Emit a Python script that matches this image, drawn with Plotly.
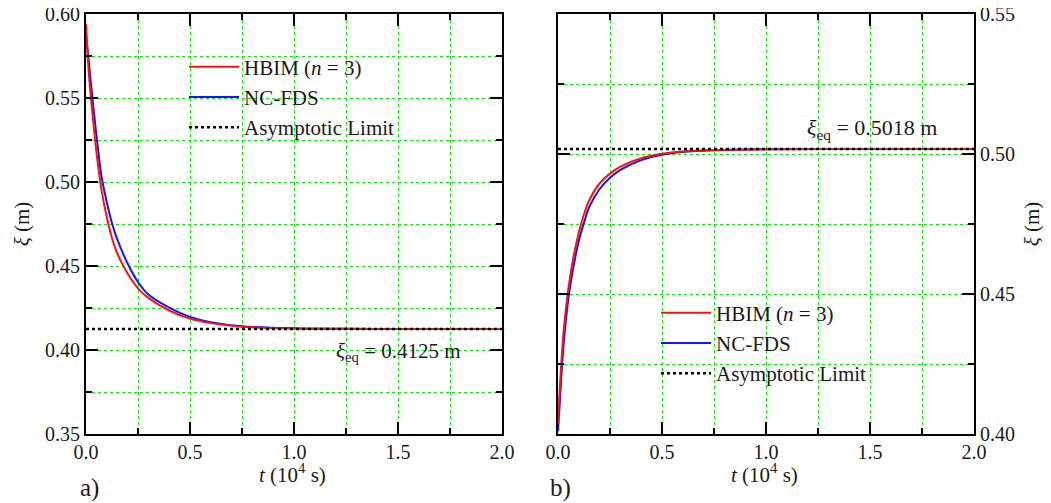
import plotly.graph_objects as go

# ---- Panel a) data (read from figure) ----
t_hbim_a = [0, 0.01, 0.02, 0.03, 0.05, 0.075, 0.1, 0.125, 0.15, 0.2, 0.25, 0.3, 0.4, 0.5, 0.6, 0.75, 1.0, 1.25, 1.5, 2.0]
xi_hbim_a = [0.594, 0.571, 0.555, 0.542, 0.518, 0.495, 0.479, 0.4665, 0.4575, 0.4455, 0.4367, 0.431, 0.4235, 0.4187,
             0.4160, 0.4138, 0.4128, 0.4126, 0.4125, 0.4125]
t_fds_a = [0, 0.01, 0.02, 0.03, 0.05, 0.075, 0.1, 0.125, 0.15, 0.2, 0.25, 0.3, 0.4, 0.5, 0.6, 0.75, 1.0, 1.25, 1.5, 2.0]
xi_fds_a = [0.588, 0.576, 0.563, 0.551, 0.528, 0.503, 0.488, 0.4755, 0.466, 0.4515, 0.4405, 0.433, 0.4252, 0.4197,
            0.4166, 0.4141, 0.4129, 0.4126, 0.4125, 0.4125]
xi_eq_a = 0.4125

# ---- Panel b) data (read from figure) ----
t_hbim_b = [0, 0.01, 0.02, 0.03, 0.05, 0.075, 0.1, 0.125, 0.15, 0.2, 0.25, 0.3, 0.4, 0.5, 0.6, 0.75, 1.0, 1.5, 2.0]
xi_hbim_b = [0.404, 0.418, 0.430, 0.439, 0.452, 0.4635, 0.472, 0.4785, 0.4835, 0.4895, 0.493, 0.4955, 0.4985,
             0.5001, 0.5009, 0.5014, 0.5017, 0.5018, 0.5018]
t_fds_b = [0, 0.01, 0.02, 0.03, 0.05, 0.075, 0.1, 0.125, 0.15, 0.2, 0.25, 0.3, 0.4, 0.5, 0.6, 0.75, 1.0, 1.5, 2.0]
xi_fds_b = [0.401, 0.413, 0.4255, 0.4345, 0.4485, 0.460, 0.469, 0.4755, 0.481, 0.4875, 0.4915, 0.4943, 0.4978,
            0.4997, 0.5007, 0.5013, 0.5017, 0.5018, 0.5018]
xi_eq_b = 0.5018

t_span = [0, 2.0]

FONT = "Liberation Serif"
TXT = "#1a1a1a"
GREEN = "#20e020"
RED = "#ff1010"
BLUE = "#1414ff"

# page has an 8px body margin; figure occupies page pixels 8..1051 x 8..503
OFF = 8
W, H = 1051 - OFF, 503 - OFF
def px(X):
    return (X - OFF) / W
def py(Y):
    return 1 - (Y - OFF) / H

fig = go.Figure()

def add_panel(xa, ya, leg, th, yh, tf, yf, yeq):
    fig.add_trace(go.Scatter(x=tf, y=yf, mode="lines", line=dict(color=BLUE, width=2, shape="spline", smoothing=0.8),
                             name="NC-FDS", xaxis=xa, yaxis=ya, legend=leg, legendrank=2))
    fig.add_trace(go.Scatter(x=th, y=yh, mode="lines", line=dict(color=RED, width=2, shape="spline", smoothing=0.8),
                             name="HBIM (<i>n</i> = 3)", xaxis=xa, yaxis=ya, legend=leg, legendrank=1))
    fig.add_trace(go.Scatter(x=t_span, y=[yeq, yeq], mode="lines", line=dict(color="black", width=2.5, dash="dot"),
                             name="Asymptotic Limit", xaxis=xa, yaxis=ya, legend=leg, legendrank=3))

add_panel("x", "y", "legend", t_hbim_a, xi_hbim_a, t_fds_a, xi_fds_a, xi_eq_a)
add_panel("x2", "y2", "legend2", t_hbim_b, xi_hbim_b, t_fds_b, xi_fds_b, xi_eq_b)

FS = 21
tickfont = dict(family=FONT, size=20, color=TXT)
grid = dict(showgrid=True, gridcolor=GREEN, griddash="dot", gridwidth=1)
minor_common = dict(ticks="inside", ticklen=6, tickwidth=2, tickcolor="black",
                    showgrid=True, gridcolor=GREEN, griddash="dot", gridwidth=1)

def xaxis(domain, anchor):
    return dict(domain=domain, anchor=anchor, range=[0, 2.0], dtick=0.5, tick0=0, tickformat=".1f",
                showline=True, linecolor="black", linewidth=2, mirror="ticks",
                ticks="inside", ticklen=12, tickwidth=2, tickcolor="black",
                minor=dict(dtick=0.25, **minor_common),
                tickfont=tickfont, zeroline=False, automargin=False, ticklabeloverflow="allow",
                ticklabelstandoff=-1,
                **grid)

def yaxis(domain, anchor, rng, side):
    return dict(domain=domain, anchor=anchor, range=rng, dtick=0.05, tick0=0, tickformat=".2f", side=side,
                showline=True, linecolor="black", linewidth=2, mirror="ticks",
                ticks="inside", ticklen=12, tickwidth=2, tickcolor="black",
                minor=dict(dtick=0.025, **minor_common),
                tickfont=tickfont, zeroline=False, automargin=False, ticklabeloverflow="allow",
                title=dict(text="<i>ξ</i> (m)", font=dict(family=FONT, size=FS, color=TXT), standoff=10),
                **grid)

# plot areas sized so every grid step falls on a whole pixel
yd = [py(434), py(14)]
legfont = dict(family=FONT, size=21, color=TXT)
xtitle = "<i>t</i> (10<sup>4</sup> s)"
fig.update_layout(
    width=W, height=H,
    margin=dict(l=0, r=0, t=0, b=0),
    paper_bgcolor="white", plot_bgcolor="white",
    font=dict(family=FONT, size=FS, color=TXT),
    xaxis=xaxis([px(86), px(502)], "y"),
    yaxis=yaxis(yd, "x", [0.35, 0.60], "left"),
    xaxis2=xaxis([px(558), px(974)], "y2"),
    yaxis2=yaxis(yd, "x2", [0.40, 0.55], "right"),
    legend=dict(x=px(184), y=py(97), xanchor="left", yanchor="middle", bgcolor="rgba(0,0,0,0)",
                font=legfont, tracegroupgap=0, itemwidth=50, traceorder="normal"),
    legend2=dict(x=px(656), y=py(343), xanchor="left", yanchor="middle", bgcolor="rgba(0,0,0,0)",
                 font=legfont, tracegroupgap=0, itemwidth=50, traceorder="normal"),
    annotations=[
        dict(text="<i>ξ</i><sub>eq</sub> = 0.4125 m", x=1.19, y=0.3986, xref="x", yref="y",
             xanchor="left", yanchor="middle", showarrow=False, font=dict(family=FONT, size=FS, color=TXT)),
        dict(text="<i>ξ</i><sub>eq</sub> = 0.5018 m", x=1.187, y=0.509, xref="x2", yref="y2",
             xanchor="left", yanchor="middle", showarrow=False, font=dict(family=FONT, size=22, color=TXT)),
        dict(text=xtitle, x=px(292), y=py(473), xref="paper", yref="paper", xanchor="center", yanchor="middle",
             showarrow=False, font=dict(family=FONT, size=FS, color=TXT)),
        dict(text=xtitle, x=px(764), y=py(473), xref="paper", yref="paper", xanchor="center", yanchor="middle",
             showarrow=False, font=dict(family=FONT, size=FS, color=TXT)),
        dict(text="a)", x=px(78), y=py(488), xref="paper", yref="paper", xanchor="left", yanchor="middle",
             showarrow=False, font=dict(family=FONT, size=25, color=TXT)),
        dict(text="b)", x=px(548), y=py(488), xref="paper", yref="paper", xanchor="left", yanchor="middle",
             showarrow=False, font=dict(family=FONT, size=25, color=TXT)),
    ],
)

fig.write_html("out.html")
